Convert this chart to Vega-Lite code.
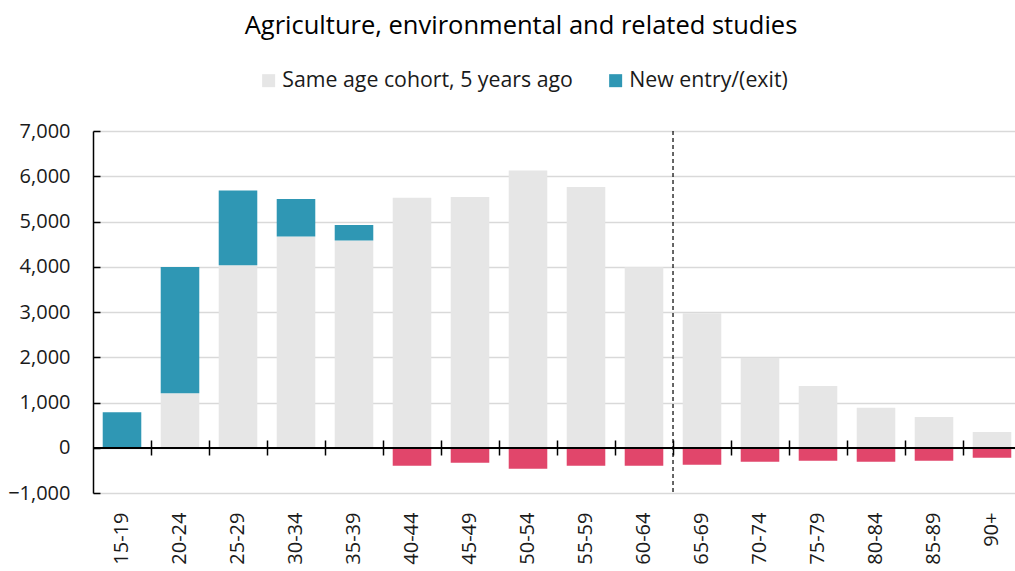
{
  "$schema": "https://vega.github.io/schema/vega-lite/v6.json",
  "width": 922,
  "height": 362,
  "autosize": {"type": "none"},
  "padding": {"left": 93, "top": 131, "right": 0, "bottom": 78},
  "background": "white",
  "config": {"font": "Open Sans", "view": {"stroke": null}},
  "title": {"text": "Agriculture, environmental and related studies", "fontSize": 25.5, "fontWeight": "normal", "color": "#000000", "anchor": "middle", "frame": "group", "dx": -33, "offset": 31},
  "data": {"values": [
    {"age": "15-19", "series": "Same age cohort, 5 years ago", "value": 0},
    {"age": "15-19", "series": "New entry/(exit)", "value": 783},
    {"age": "20-24", "series": "Same age cohort, 5 years ago", "value": 1203},
    {"age": "20-24", "series": "New entry/(exit)", "value": 2790},
    {"age": "25-29", "series": "Same age cohort, 5 years ago", "value": 4035},
    {"age": "25-29", "series": "New entry/(exit)", "value": 1650},
    {"age": "30-34", "series": "Same age cohort, 5 years ago", "value": 4668},
    {"age": "30-34", "series": "New entry/(exit)", "value": 827},
    {"age": "35-39", "series": "Same age cohort, 5 years ago", "value": 4580},
    {"age": "35-39", "series": "New entry/(exit)", "value": 340},
    {"age": "40-44", "series": "Same age cohort, 5 years ago", "value": 5524},
    {"age": "40-44", "series": "Exit", "value": -398},
    {"age": "45-49", "series": "Same age cohort, 5 years ago", "value": 5540},
    {"age": "45-49", "series": "Exit", "value": -332},
    {"age": "50-54", "series": "Same age cohort, 5 years ago", "value": 6128},
    {"age": "50-54", "series": "Exit", "value": -464},
    {"age": "55-59", "series": "Same age cohort, 5 years ago", "value": 5760},
    {"age": "55-59", "series": "Exit", "value": -398},
    {"age": "60-64", "series": "Same age cohort, 5 years ago", "value": 3991},
    {"age": "60-64", "series": "Exit", "value": -398},
    {"age": "65-69", "series": "Same age cohort, 5 years ago", "value": 2973},
    {"age": "65-69", "series": "Exit", "value": -376},
    {"age": "70-74", "series": "Same age cohort, 5 years ago", "value": 1991},
    {"age": "70-74", "series": "Exit", "value": -310},
    {"age": "75-79", "series": "Same age cohort, 5 years ago", "value": 1365},
    {"age": "75-79", "series": "Exit", "value": -288},
    {"age": "80-84", "series": "Same age cohort, 5 years ago", "value": 885},
    {"age": "80-84", "series": "Exit", "value": -310},
    {"age": "85-89", "series": "Same age cohort, 5 years ago", "value": 679},
    {"age": "85-89", "series": "Exit", "value": -288},
    {"age": "90+", "series": "Same age cohort, 5 years ago", "value": 347},
    {"age": "90+", "series": "Exit", "value": -221}
  ]},
  "layer": [
    {
      "mark": {"type": "bar"},
      "encoding": {
        "x": {"field": "age", "type": "nominal", "sort": null,
              "scale": {"range": [0, 928], "paddingInner": 0.335, "paddingOuter": 0.1675},
              "axis": {"orient": "bottom", "title": null, "domain": false, "ticks": false, "grid": false, "labelAngle": -90, "labelPadding": 19, "labelFontSize": 20, "labelColor": "#1a1a1a"}},
        "y": {"field": "value", "type": "quantitative",
              "scale": {"domain": [-1000, 7000], "nice": false},
              "axis": {"title": null, "values": [-1000, 0, 1000, 2000, 3000, 4000, 5000, 6000, 7000], "format": ",.0f", "labelFontSize": 20, "labelColor": "#1a1a1a", "domainColor": "#000000", "domainWidth": 1.5, "tickColor": "#000000", "tickSize": -7, "tickWidth": 1.5, "labelPadding": 30, "gridColor": "#d9d9d9", "gridWidth": 1.5}},
        "color": {"field": "series", "type": "nominal",
                  "scale": {"domain": ["Same age cohort, 5 years ago", "New entry/(exit)", "Exit"], "range": ["#e6e6e6", "#2f97b4", "#e1466b"]},
                  "legend": {"values": ["Same age cohort, 5 years ago", "New entry/(exit)"], "title": null, "orient": "none", "direction": "horizontal", "legendX": 165, "legendY": -61, "symbolType": "square", "symbolSize": 169, "symbolStrokeWidth": 0, "labelFontSize": 21.3, "labelColor": "#1a1a1a", "columnPadding": 32, "labelOffset": 3, "labelLimit": 400}},
        "order": {"field": "series", "sort": "descending"}
      }
    },
    {
      "mark": {"type": "rule", "color": "#000000", "strokeWidth": 1.5},
      "encoding": {"y": {"datum": 0}}
    },
    {
      "transform": [{"filter": "datum.series === 'Same age cohort, 5 years ago' && datum.age === '65-69'"}],
      "mark": {"type": "rule", "color": "#000000", "strokeWidth": 1.2, "strokeDash": [4, 3], "xOffset": -9.7},
      "encoding": {
        "x": {"field": "age", "type": "nominal", "sort": null, "bandPosition": 0,
              "axis": {"orient": "bottom", "title": null, "offset": -53, "labels": false, "domain": false, "grid": false, "bandPosition": 1, "tickOffset": 9.5, "tickSize": 15, "tickColor": "#000000", "tickWidth": 1.5}}
      }
    }
  ],
  "resolve": {"axis": {"x": "independent"}}
}
